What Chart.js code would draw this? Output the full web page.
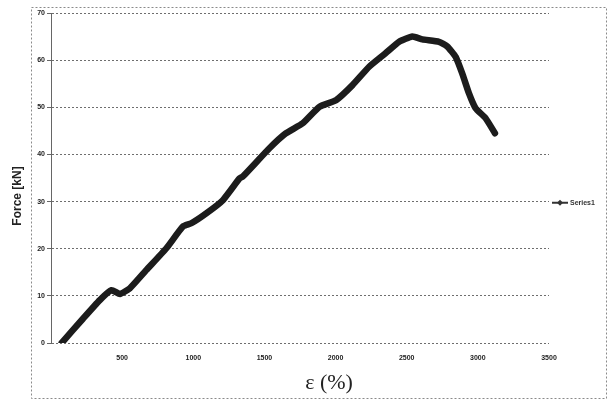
<!DOCTYPE html>
<html>
<head>
<meta charset="utf-8">
<script src="https://cdn.jsdelivr.net/npm/chart.js@4.4.1/dist/chart.umd.min.js"></script>
<style>
  html, body { margin: 0; padding: 0; background: #fff; }
</style>
</head>
<body>
<canvas id="results" width="608" height="400"></canvas>
<script>
const ctx = document.getElementById("results");

// strain values (x) and force in kN (y)
const strain = [75, 226, 343, 426, 484, 554, 671, 811, 927, 986, 1091, 1208, 1325, 1348,
  1535, 1652, 1769, 1886, 2003, 2119, 2236, 2353, 2447, 2540, 2610, 2727, 2785, 2844,
  2890, 2937, 2984, 3054, 3120];
const force = [0, 5.2, 9.1, 11.2, 10.4, 11.6, 15.5, 20.1, 24.7, 25.4, 27.5, 30.3, 34.9, 35.3,
  41.3, 44.5, 46.6, 50.1, 51.5, 54.7, 58.6, 61.5, 63.9, 65.0, 64.4, 63.9, 62.9, 60.7,
  57.2, 53.0, 49.8, 47.7, 44.5];

const xTickLabels = ["", "500", "1000", "1500", "2000", "2500", "3000", "3500"];
const yTickLabels = ["0", "10", "20", "30", "40", "50", "60", "70"];
const seriesName = "Series1";

// frame, axis titles and legend drawn like the old excel sheet
const sheetFrame = {
  id: "sheetFrame",
  beforeDraw(chart) {
    const c = chart.ctx;
    c.save();
    c.fillStyle = "#fff";
    c.fillRect(0, 0, chart.width, chart.height);
    c.strokeStyle = "#8a8a8a";
    c.lineWidth = 1;
    c.setLineDash([2, 2]);
    c.strokeRect(31.5, 7.5, 575, 391);
    c.restore();
  },
  afterDraw(chart) {
    const c = chart.ctx;
    const area = chart.chartArea;
    c.save();

    // y title
    c.fillStyle = "#222";
    c.font = "bold 12px 'Liberation Sans', Arial, sans-serif";
    c.textAlign = "center";
    c.textBaseline = "middle";
    c.translate(18, 196);
    c.rotate(-Math.PI / 2);
    c.fillText("Force [kN]", 0, 0);
    c.setTransform(1, 0, 0, 1, 0, 0);

    // x title
    c.font = "22px 'Liberation Serif', 'Times New Roman', serif";
    c.fillText("ε (%)", 329, 383);

    // legend
    const lx = area.right + 3;
    const ly = area.top + area.height * 0.575;
    c.strokeStyle = "#333";
    c.lineWidth = 2;
    c.beginPath();
    c.moveTo(lx, ly);
    c.lineTo(lx + 16, ly);
    c.stroke();
    c.fillStyle = "#333";
    c.beginPath();
    c.moveTo(lx + 8, ly - 3);
    c.lineTo(lx + 11, ly);
    c.lineTo(lx + 8, ly + 3);
    c.lineTo(lx + 5, ly);
    c.closePath();
    c.fill();
    c.font = "bold 7px 'Liberation Sans', Arial, sans-serif";
    c.textAlign = "left";
    c.fillText(seriesName, lx + 18, ly);
    c.restore();
  },
};

const tickFont = { family: "'Liberation Sans', Arial, sans-serif", size: 7, weight: "bold" };

new Chart(ctx, {
  type: "line",
  data: {
    datasets: [
      {
        label: seriesName,
        data: strain.map((x, i) => ({ x: x, y: force[i] })),
        borderColor: "#1c1c1c",
        borderWidth: 6.5,
        pointRadius: 0,
        tension: 0.15,
        borderCapStyle: "round",
        borderJoinStyle: "round",
      },
    ],
  },
  options: {
    responsive: false,
    animation: false,
    devicePixelRatio: 1,
    layout: { padding: { left: 0, right: 59, top: 13, bottom: 0 } },
    plugins: {
      legend: { display: false },
      tooltip: { enabled: false },
    },
    scales: {
      x: {
        type: "linear",
        min: 0,
        max: 3500,
        afterFit: (scale) => { scale.height = 57; },
        grid: { display: false },
        border: { display: false },
        ticks: {
          stepSize: 500,
          maxRotation: 0,
          padding: 3,
          color: "#222",
          font: tickFont,
          callback: (value) => xTickLabels[Math.round(value / 500)],
        },
      },
      y: {
        min: 0,
        max: 70,
        afterFit: (scale) => { scale.width = 51; },
        grid: {
          color: "#6e6e6e",
          lineWidth: 1,
          tickLength: 4,
          tickColor: "#666",
          tickBorderDash: [],
        },
        border: { display: true, color: "#666", width: 1, dash: [2, 2] },
        ticks: {
          stepSize: 10,
          padding: 2,
          color: "#222",
          font: tickFont,
          callback: (value) => yTickLabels[Math.round(value / 10)],
        },
      },
    },
  },
  plugins: [sheetFrame],
});
</script>
</body>
</html>
